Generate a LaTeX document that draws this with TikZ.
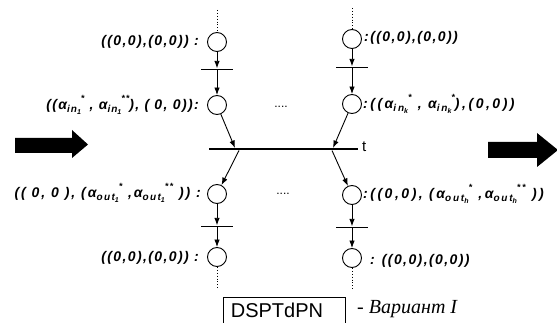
\documentclass[tikz,border=0pt]{standalone}
\usepackage{fontspec}
\setmainfont{Liberation Sans}
\newfontfamily\lblfont[LetterSpace=10]{Liberation Sans}
\newfontfamily\lblfontmid[LetterSpace=14]{Liberation Sans}
\newfontfamily\lblfontwide[LetterSpace=18]{Liberation Sans}
\newfontfamily\cyrfont{Liberation Serif}
\usetikzlibrary{arrows.meta,calc}
% alpha with a two-level subscript and a superscript placed after it
\newcommand\alsub[3]{α\raisebox{-0.45ex}{\fontsize{10}{10}\selectfont #1\raisebox{-0.35ex}{\fontsize{7}{7}\selectfont #2}}\raisebox{1.0ex}{\fontsize{9}{9}\selectfont #3}}
\begin{document}
\begin{tikzpicture}[x=1pt,y=-1pt,
  place/.style={circle,draw,line width=0.9pt,minimum size=19pt,inner sep=0pt},
  tbar/.style={fill=black,minimum width=32pt,minimum height=0.9pt,inner sep=0pt},
  mainbar/.style={fill=black,minimum width=149pt,minimum height=2.6pt,inner sep=0pt},
  arc/.style={-{Latex[length=7.5pt,width=5.5pt]},line width=0.9pt},
  dots/.style={line width=0.9pt,dash pattern=on 0.9pt off 2pt},
  lbl/.style={font=\lblfont\bfseries\itshape\fontsize{14}{14}\selectfont,inner sep=0pt},
  lblmid/.style={font=\lblfontmid\bfseries\itshape\fontsize{14}{14}\selectfont,inner sep=0pt},
  lblwide/.style={font=\lblfontwide\bfseries\itshape\fontsize{14}{14}\selectfont,inner sep=0pt},
  bigarrow/.style={fill=black}]
\useasboundingbox (0,0) rectangle (557,323);
\clip (0,0) rectangle (557,323);

% left column
\node[place] (a1) at (217,42) {};
\node[tbar]  (ta) at (217,69) {};
\node[place] (a2) at (217,105) {};
\node[place] (a3) at (217,194) {};
\node[tbar]  (tc) at (217,226) {};
\node[place] (a4) at (217,257) {};
% right column
\node[place] (b1) at (352,39) {};
\node[tbar]  (tb) at (352,67) {};
\node[place] (b2) at (352,104) {};
\node[place] (b3) at (352,195) {};
\node[tbar]  (td) at (352,227) {};
\node[place] (b4) at (352,258) {};
% main transition
\node[mainbar] (t) at (283.5,149) {};
\node[font=\fontsize{15}{15}\selectfont,anchor=west,inner sep=0pt] (tl) at (362,147) {t};

% ends of the dotted continuations
\coordinate (a0) at (217,10);
\coordinate (a5) at (217,289);
\coordinate (b0) at (352,8);
\coordinate (b5) at (352,290);
\draw[dots] (a0) -- (a1.north);
\draw[dots] (a4.south) -- (a5);
\draw[dots] (b0) -- (b1.north);
\draw[dots] (b4.south) -- (b5);

% points where the arcs meet the main transition
\coordinate (tin1) at (235,148);
\coordinate (tink) at (333,148);
\coordinate (tout1) at (239,150.5);
\coordinate (touth) at (332,150.5);

\draw[arc] (a1) -- (ta);
\draw[arc] (ta) -- (a2);
\draw[arc] (a2) -- (tin1);
\draw[arc] (tout1) -- (a3);
\draw[arc] (a3) -- (tc);
\draw[arc] (tc) -- (a4);

\draw[arc] (b1) -- (tb);
\draw[arc] (tb) -- (b2);
\draw[arc] (b2) -- (tink);
\draw[arc] (touth) -- (b3);
\draw[arc] (b3) -- (td);
\draw[arc] (td) -- (b4);

% markings
\node[lbl,anchor=east] (la1) at (199,42) {((0,0),(0,0)) :};
\node[lbl,anchor=east] (la2) at (199,105) {((\alsub{in}{1}{*} , \alsub{in}{1}{**}), ( 0, 0)):};
\node[lblmid,anchor=east] (la3) at (201,193) {(( 0, 0 ), (\alsub{out}{1}{*} ,\alsub{out}{1}{**} )) :};
\node[lbl,anchor=east] (la4) at (199,258) {((0,0),(0,0)) :};
\node[lbl,anchor=west] (lb1) at (364,38) {:((0,0),(0,0))};
\node[lblwide,anchor=west] (lb2) at (363,104) {:((\alsub{in}{k}{*} , \alsub{in}{k}{*}),(0,0))};
\node[lblwide,anchor=west] (lb3) at (363,194) {:((0,0), (\alsub{out}{h}{*} ,\alsub{out}{h}{**} ))};
\node[lbl,anchor=west] (lb4) at (370,261) {: ((0,0),(0,0))};

\node[font=\fontsize{12}{12}\selectfont,inner sep=0pt] (m1) at (281,107) {....};
\node[font=\fontsize{12}{12}\selectfont,inner sep=0pt] (m2) at (283,194) {....};

% thick direction arrows
\fill[bigarrow] (15,138) -- (72,138) -- (72,130) -- (88,144.5) -- (72,158) -- (72,153) -- (15,153) -- cycle;
\fill[bigarrow] (488,142) -- (537,142) -- (537,133) -- (558,150) -- (537,167) -- (537,158) -- (488,158) -- cycle;

% legend
\node[draw,line width=0.8pt,minimum width=122pt,minimum height=30pt,inner sep=0pt,anchor=north west] (box) at (223,297) {};
\node[font=\fontsize{20}{20}\selectfont,inner sep=0pt] (boxt) at (277,310) {DSPTdPN};
\node[font=\cyrfont\itshape\fontsize{20}{20}\selectfont,anchor=west,inner sep=0pt] (var) at (357,309) {- Вариант I};
\end{tikzpicture}
\end{document}
